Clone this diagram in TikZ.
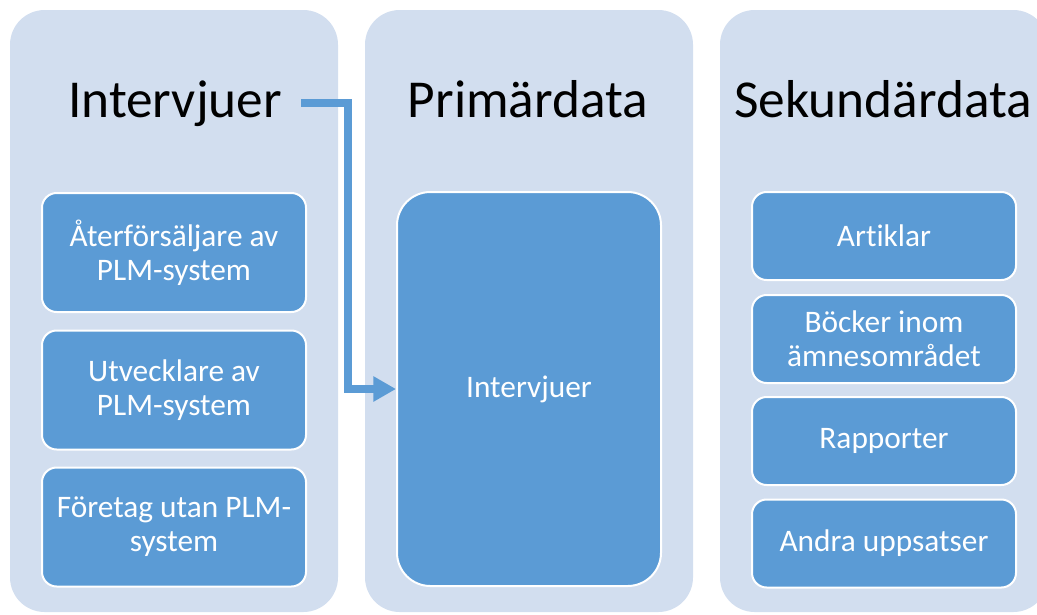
\documentclass[tikz,border=0pt]{standalone}
\usepackage{fontspec}
\setmainfont{Carlito}[Ligatures=NoCommon]
\usetikzlibrary{arrows.meta}
\definecolor{paneblue}{HTML}{D2DEEF}
\definecolor{itemblue}{HTML}{5B9BD5}
\pgfdeclarelayer{background}
\pgfsetlayers{background,main}
\tikzstyle{pane}=[fill=paneblue,rounded corners=26pt,minimum width=246pt,minimum height=451.5pt,inner sep=0pt]
\tikzstyle{heading}=[font=\fontsize{40}{48}\selectfont,anchor=base]
\tikzstyle{item}=[fill=itemblue,draw=white,line width=1.5pt,rounded corners=11pt,minimum width=198pt,align=center,text=white,font=\fontsize{23.5}{25.5}\selectfont]
\tikzstyle{flow}=[draw=itemblue,line width=5.8pt,-{Triangle[length=17pt,width=18pt]}]

\begin{document}
\begin{tikzpicture}[x=0.75pt,y=-0.75pt]
    \useasboundingbox (0,0) rectangle (1037,614);
    \clip (0,0) rectangle (1037,614);
	\foreach \x/\name/\txt in {175/t1/Intervjuer, 528/t2/Primärdata, 883/t3/Sekundärdata}
        \node[heading] (\name) at (\x,117) {\txt};
    \foreach \y/\name/\txt in {252.5/a/{Återförsäljare av\\PLM-system}, 390/b/{Utvecklare av\\PLM-system},
                               527/c/{Företag utan PLM-\\system}}
        \node[item,minimum height=89.25pt] (\name) at (174,\y) {\txt};
    \node[item,minimum height=295.5pt,rounded corners=25pt] (mid) at (529,389) {\raisebox{-2pt}{Intervjuer}};
    \foreach \y/\name/\txt in {236/d/Artiklar, 339/e/{Böcker inom\\ämnesområdet}, 441/f/Rapporter,
                               543.5/g/Andra uppsatser}
        \node[item,minimum height=66pt] (\name) at (884,\y) {\txt};
    \draw[flow] ([xshift=11pt]t1.east) -- ++(47,0) |- (mid.west);

	\begin{pgfonlayer}{background}
        \foreach \pos/\name in {{(174,311)/p1}, {(529,311)/p2}, {(884,311)/p3}}
            \node[pane] (\name) at \pos {};
    \end{pgfonlayer}
\end{tikzpicture}
\end{document}
